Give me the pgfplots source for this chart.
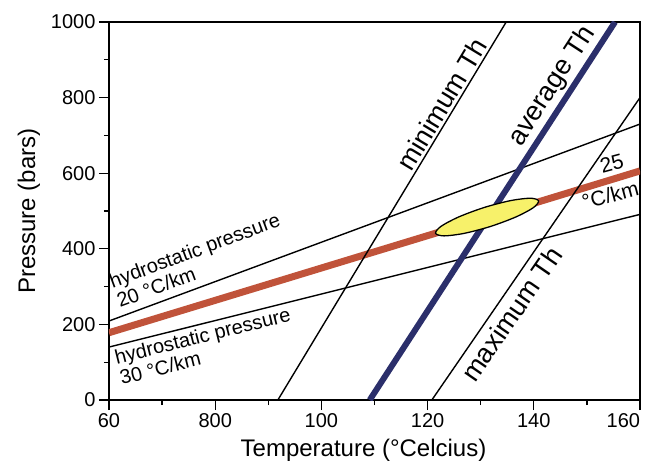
\documentclass[border=0pt]{standalone}
\usepackage{fontspec}
\setmainfont{Liberation Sans}
\usepackage{pgfplots}
\pgfplotsset{compat=1.18}
\definecolor{gradred}{HTML}{C0533A}
\definecolor{thnavy}{HTML}{2B2F6B}
\definecolor{fiyellow}{HTML}{F7F16A}

\begin{document}
\begin{tikzpicture}
\begin{axis}[
  width=531pt, height=378pt, scale only axis,
  xmin=60, xmax=160, ymin=0, ymax=1000,
  xtick={60,80,...,160}, xticklabels={60,800,100,120,140,\makebox[0pt][r]{160}},
  ytick={0,200,...,1000},
  minor x tick num=1, minor y tick num=1,
  tick align=outside, tick pos=left,
  major tick length=10pt, minor tick length=5pt,
  every tick/.style={black, line width=1.3pt},
  axis line style={line width=1.4pt},
  tick label style={font=\fontsize{20}{24}\selectfont},
  /pgf/number format/assume math mode=true,
  /pgf/number format/1000 sep={},
  label style={font=\fontsize{24}{28}\selectfont},
  xlabel={Temperature (°Celcius)}, ylabel={Pressure (bars)},
  xlabel style={xshift=-11pt, yshift=-5pt},
  ylabel style={yshift=4pt},
]
% geothermal gradients
\addplot[black, line width=1.4pt] coordinates {(60,209) (160,730)};
\addplot[black, line width=1.4pt] coordinates {(60,140) (160,491)};
\addplot[gradred, line width=7pt] coordinates {(60,178) (160,606)};
% isochores
\addplot[black, line width=1.4pt] coordinates {(91.8,0) (134.8,1000)};
\addplot[black, line width=1.4pt] coordinates {(120.8,0) (160,800)};
\addplot[thnavy, line width=6pt] coordinates {(109.1,0) (155.3,1000)};
% trapping field
\addplot[fill=fiyellow, draw=black, line width=1.3pt, smooth cycle] coordinates {
  (140.90,527.0) (139.32,533.8) (135.56,527.3) (130.63,509.2)
  (125.86,484.3) (122.52,459.4) (121.50,441.0) (123.09,434.2)
  (126.84,440.7) (131.77,458.8) (136.54,483.7) (139.89,508.6)};

\node[rotate=58.9, anchor=south, font=\fontsize{27}{30}\selectfont, inner sep=3pt] at (axis cs:124.8,765) {minimum Th};
\node[rotate=57, anchor=south, font=\fontsize{27}{30}\selectfont, inner sep=5pt] at (axis cs:146.3,805) {average Th};
\node[rotate=55.4, anchor=north, font=\fontsize{27}{30}\selectfont, inner sep=8pt] at (axis cs:133.0,255) {maximum Th};
\node[rotate=20.4, anchor=south west, align=left, font=\fontsize{20}{21}\selectfont, inner xsep=0pt, inner ysep=8pt] at (axis cs:62.6,222.5) {hydrostatic pressure\\20 °C/km};
\node[rotate=14.0, anchor=north west, align=left, font=\fontsize{20}{21}\selectfont, inner xsep=0pt, inner ysep=4pt] at (axis cs:60.6,142.1) {hydrostatic pressure\\30 °C/km};
\node[rotate=15, font=\fontsize{21}{24}\selectfont] at (axis cs:154.7,626) {25};
\node[rotate=15, font=\fontsize{21}{24}\selectfont] at (axis cs:154.4,542) {°C/km};
\end{axis}
\pgfresetboundingbox
\path[use as bounding box] ([shift={(-109pt,-64pt)}]current axis.south west) rectangle ([shift={(8pt,22pt)}]current axis.north east);
\end{tikzpicture}
\end{document}
